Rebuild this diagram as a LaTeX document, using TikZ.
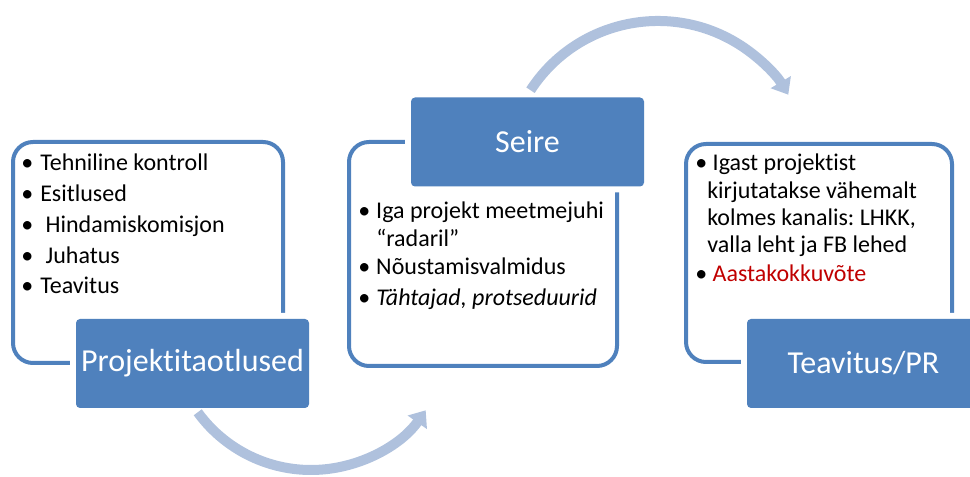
\documentclass[tikz,border=0pt]{standalone}
\usepackage{fontspec}
\setmainfont{Carlito}[Ligatures=NoCommon]
\usetikzlibrary{arrows.meta}
\definecolor{boxblue}{HTML}{4F81BD}
\definecolor{arcblue}{HTML}{AFC1DD}
\definecolor{notered}{HTML}{C00000}
\newcommand{\bpoint}[1][14.25pt]{\makebox[#1][l]{\textbullet}}
\frenchspacing

\begin{document}
\begin{tikzpicture}[x=0.75pt,y=0.75pt,
		frame/.style={draw=boxblue,line width=3pt,rounded corners=15pt},
		title/.style={fill=boxblue,rounded corners=3pt,text=white,minimum width=174.75pt,minimum height=66.75pt,inner sep=0pt,font=\fontsize{24}{28}\selectfont,preaction={draw=white,line width=9pt}},
		bitem/.style={anchor=base west,inner sep=0pt,font=\fontsize{18}{20.5}\selectfont},
		flow/.style={draw=arcblue,line width=7.5pt,-{Triangle[length=11pt,width=17pt]}}]
		\useasboundingbox (0,0) rectangle (970,477);
		\clip (0,0) rectangle (970,477);
		\draw[frame] (13,335) rectangle (283,114);
		\draw[frame] (349,335) rectangle (617,111);
		\draw[frame] (686,333) rectangle (952,115);
		\node[title] (proj) at (192.5,113.5) {Projektitaotlused};
		\node[title] (seire) at (527.5,335) {Seire};
		\node[title] (pr) at (863.5,113.5) {Teavitus/PR};
		\node[bitem] (p1) at (21,306.3) {\bpoint Tehniline kontroll};
		\node[bitem] (p2) at (21,275.3) {\bpoint Esitlused};
		\node[bitem] (p3) at (21,244.3) {\bpoint\ Hindamiskomisjon};
		\node[bitem] (p4) at (21,213.7) {\bpoint\ Juhatus};
		\node[bitem] (p5) at (21,183.7) {\bpoint Teavitus};
		\node[bitem] (s1) at (358,258) {\bpoint[13.5pt]\begin{tabular}[t]{@{}l@{}}Iga projekt meetmejuhi\\“radaril”\end{tabular}};
		\node[bitem] (s2) at (358,202) {\bpoint[13.5pt]Nõustamisvalmidus};
		\node[bitem] (s3) at (358,171) {\bpoint[13.5pt]\itshape Tähtajad, protseduurid};
		\node[bitem] (t1) at (695,306.3) {\bpoint[9pt]\begin{tabular}[t]{@{}l@{}}\ Igast projektist\\kirjutatakse vähemalt\\kolmes kanalis: LHKK,\\valla leht ja FB lehed\end{tabular}};
		\node[bitem] (t2) at (695,195.3) {\bpoint[9pt]\color{notered}\ Aastakokkuvõte};
		\coordinate (a1) at ({311+140*cos(216)},{147+140*sin(216)});
		\coordinate (a2) at ({658+152*cos(147)},{304+152*sin(147)});
		\draw[flow] (a1) arc[start angle=216,end angle=325,radius=140];
		\draw[flow] (a2) arc[start angle=147,end angle=31,radius=152];
	\end{tikzpicture}
\end{document}
